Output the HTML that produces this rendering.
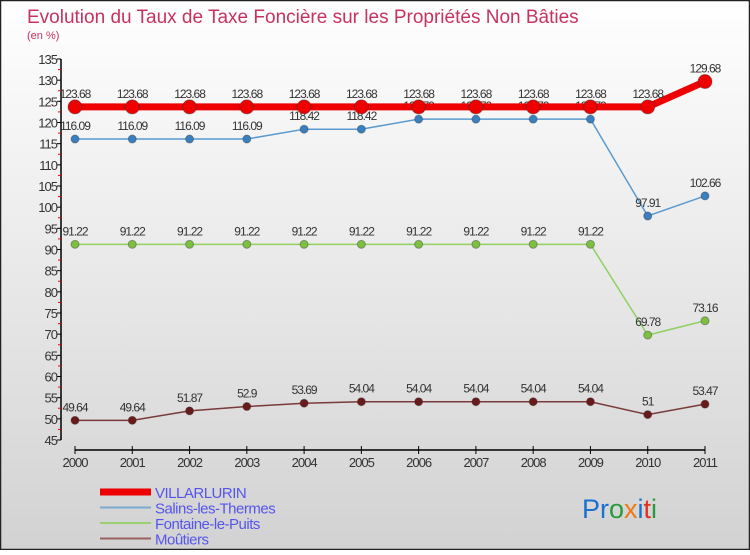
<!DOCTYPE html>
<html><head><meta charset="utf-8"><style>
body{margin:0;}
#c{width:750px;height:550px;position:relative;font-family:"Liberation Sans",sans-serif;}
</style></head><body>
<div id="c">
<svg id="s" width="750" height="550" xmlns="http://www.w3.org/2000/svg">
<defs><linearGradient id="bg" x1="0" y1="0" x2="0" y2="1"><stop offset="0" stop-color="#ffffff"/><stop offset="1" stop-color="#d2d2d2"/></linearGradient></defs>
<rect x="0.5" y="0.5" width="749" height="549" fill="url(#bg)" stroke="#222" stroke-width="1.5"/>
<text x="27" y="23" font-size="19" fill="#c8325f">Evolution du Taux de Taxe Foncière sur les Propriétés Non Bâties</text>
<text x="27" y="39" font-size="11" fill="#c8325f">(en %)</text>
<g id="axes"></g><g id="series"></g><g id="legend"></g>
<text x="582" y="518" font-size="27"><tspan fill="#1a6fd0">Pr</tspan><tspan fill="#2a9a3a">o</tspan><tspan fill="#f07a10">x</tspan><tspan fill="#1a6fd0">i</tspan><tspan fill="#e03020">t</tspan><tspan fill="#2a9a3a">i</tspan></text>
</svg>
</div>
<script>
const years=["2000","2001","2002","2003","2004","2005","2006","2007","2008","2009","2010","2011"];
const yTicks=[45,50,55,60,65,70,75,80,85,90,95,100,105,110,115,120,125,130,135];
const names=["VILLARLURIN","Salins-les-Thermes","Fontaine-le-Puits","Moûtiers"];
const villarlurin=[123.68,123.68,123.68,123.68,123.68,123.68,123.68,123.68,123.68,123.68,123.68,129.68];
const salins=[116.09,116.09,116.09,116.09,118.42,118.42,120.79,120.79,120.79,120.79,97.91,102.66];
const fontaine=[91.22,91.22,91.22,91.22,91.22,91.22,91.22,91.22,91.22,91.22,69.78,73.16];
const moutiers=[49.64,49.64,51.87,52.9,53.69,54.04,54.04,54.04,54.04,54.04,51,53.47];
const NS="http://www.w3.org/2000/svg";
const X=i=>75+i*(705-75)/(years.length-1);
const Y=v=>440-(v-45)*(381/90);
function mk(p,t,a){const e=document.createElementNS(NS,t);for(const k in a)e.setAttribute(k,a[k]);p.appendChild(e);return e;}
const ax=document.getElementById('axes');
let l=mk(ax,'line',{x1:61,y1:Y(135),x2:61,y2:Y(45),stroke:'#000','stroke-width':1.5});


yTicks.forEach((v,k)=>{
 let t=mk(ax,'line',{x1:57,y1:Y(v),x2:61,y2:Y(v),stroke:'#000'});
 
 
 if(k<yTicks.length-1){
 let r=mk(ax,'line',{x1:58,y1:Y(v+2.5),x2:61,y2:Y(v+2.5),stroke:'#e00'});
 
 
 }
 let tx=mk(ax,'text',{x:57,y:Y(v)+5,'text-anchor':'end','font-size':13,fill:'#333','letter-spacing':'-1'});
 tx.textContent=v;
 
 
});
l=mk(ax,'line',{x1:75,y1:450,x2:705,y2:450,stroke:'#000','stroke-width':1.5});


years.forEach((y,i)=>{
 let t=mk(ax,'line',{x1:X(i),y1:446,x2:X(i),y2:454,stroke:'#000'});
 
 
 let tx=mk(ax,'text',{x:X(i),y:467,'text-anchor':'middle','font-size':13,fill:'#333','letter-spacing':'-1'});
 tx.textContent=y;
 
 
});
const sg=document.getElementById('series');
const defs=[[moutiers,'#7a3a3a','#6a1a1a',1.5,4,'moutiers'],[fontaine,'#8fd060','#7cc040',1.5,4,'fontaine'],[salins,'#5a9ad0','#3a80c0',1.5,4,'salins'],[villarlurin,'#ee0000','#ee0000',7,7,'villarlurin']];
defs.forEach(([d,lc,pc,w,r,n])=>{
 let pl=mk(sg,'polyline',{points:d.map((v,i)=>X(i)+','+Y(v)).join(' '),fill:'none',stroke:lc,'stroke-width':w});
 
 
 d.forEach((v,i)=>{
  let c=mk(sg,'circle',{cx:X(i),cy:Y(v),r:r,fill:pc,stroke:'#333','stroke-opacity':0.4});
  
  
  let tx=mk(sg,'text',{x:X(i),y:Y(v)-9,'text-anchor':'middle','font-size':12,fill:'#333','letter-spacing':'-1'});
  tx.textContent=v;
  
  
 });
});
const lg=document.getElementById('legend');
const lcols=['#ee0000','#7aaad0','#9ad070','#9a6060'];
names.forEach((nm,i)=>{
 const y=492+i*15.5;
 let ln=mk(lg,'line',{x1:100,y1:y,x2:151,y2:y,stroke:lcols[i],'stroke-width':i==0?7:2});
 
 
 let tx=mk(lg,'text',{x:155,y:y+6,'font-size':15,fill:'#5555ee','letter-spacing':'-0.5'});
 tx.textContent=nm;
 
 
});
</script>
</body></html>
